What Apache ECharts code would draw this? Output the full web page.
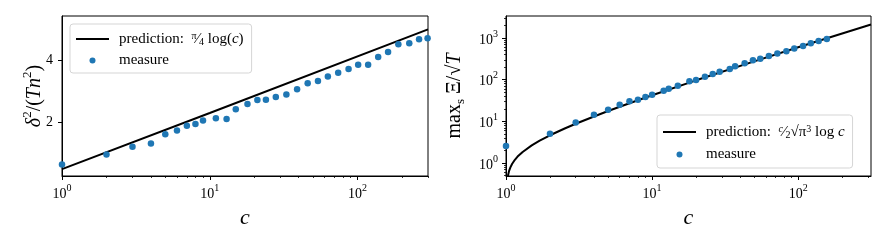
<!DOCTYPE html>
<html>
<head>
<meta charset="utf-8">
<script src="https://cdn.jsdelivr.net/npm/echarts@6/dist/echarts.min.js"></script>
<style>
html,body{margin:0;padding:0;background:#fff;}
#chart{width:888px;height:244px;}
</style>
</head>
<body>
<div id="chart"></div>
<script>
// ---- Left panel data ----
const cLeft = [1,2,3,4,5,6,7,8,9,11,13,15,18,21,24,28,33,39,46,54,63,74,87,101,118,138,161,189,224,261,298];
const measureLeft = [0.63,0.95,1.20,1.31,1.61,1.73,1.88,1.94,2.05,2.12,2.10,2.41,2.58,2.71,2.72,2.81,2.89,3.06,3.25,3.32,3.47,3.59,3.71,3.85,3.85,4.10,4.26,4.51,4.54,4.67,4.70];
const cPredLeft = [1,10,300];
const predLeft = [0.48,2.29,4.99];

// ---- Right panel data ----
const cRight = [1,2,3,4,5,6,7,8,9,10,12,13,15,18,20,23,26,29,34,37,43,49,55,63,72,83,94,108,122,138,157];
const measureRight = [2.56,5.06,9.46,14.4,19.1,25.1,30.2,33.1,38.4,43.7,54.4,60.8,71.8,91.2,98,118,137,155,180,209,247,291,319,370,421,479,555,643,745,847,946];
const cPredRight = [1.03,1.05,1.07,1.1,1.15,1.2,1.3,1.5,1.7,2,2.5,3,4,5,7,10,20,50,100,200,315];
const predRight = [0.49,0.65,0.78,0.95,1.20,1.43,1.85,2.66,3.45,4.64,6.66,8.75,13.1,17.7,27.2,42.2,96.4,275,598,1282,2104];

// ---- Tick values ----
const xMajor = [1,10,100];
const xMinor = [2,3,4,5,6,7,8,9,20,30,40,50,60,70,80,90,200,300];
const yLeftTicks = [2,4];
const yRightMajor = [1,10,100,1000];
const yRightMinor = [0.5,0.6,0.7,0.8,0.9,2,3,4,5,6,7,8,9,20,30,40,50,60,70,80,90,200,300,400,500,600,700,800,900,2000,3000];

const SERIF = '"Liberation Serif","DejaVu Serif",serif';
const BLUE = '#1f77b4';
const LINE_ICON = 'path://M0,0 L33,0 L33,2 L0,2 Z';

const supRich = {
  b: {fontFamily: SERIF, fontSize: 14, color: '#000', lineHeight: 18, verticalAlign: 'bottom'},
  s: {fontFamily: SERIF, fontSize: 10, color: '#000', lineHeight: 18, verticalAlign: 'top', padding: [0,0,6,0]}
};
function powLabel(v) {
  const e = Math.round(Math.log10(v));
  return '{b|10}{s|' + e + '}';
}

function pairs(xs, ys) { return xs.map((x, i) => [x, ys[i]]); }

function majorX(gridIndex, max) {
  return {
    type: 'log', logBase: 10, gridIndex: gridIndex, min: 1, max: max,
    position: 'bottom',
    axisLine: {show: true, lineStyle: {color: '#000', width: 1}},
    axisTick: {show: true, inside: false, length: 4, lineStyle: {color: '#000', width: 1}, customValues: xMajor},
    axisLabel: {show: true, margin: 7, customValues: xMajor, formatter: powLabel, rich: supRich},
    splitLine: {show: false}, minorTick: {show: false}, minorSplitLine: {show: false},
    name: '{c|c}', nameLocation: 'middle', nameGap: 31,
    nameTextStyle: {rich: {c: {fontFamily: SERIF, fontStyle: 'italic', fontSize: 22, color: '#000'}}}
  };
}
function minorX(gridIndex, max) {
  return {
    type: 'log', logBase: 10, gridIndex: gridIndex, min: 1, max: max,
    position: 'bottom',
    axisLine: {show: false},
    axisTick: {show: true, inside: false, length: 2, lineStyle: {color: '#000', width: 0.8}, customValues: xMinor},
    axisLabel: {show: false},
    splitLine: {show: false}
  };
}

const legendRich = {
  t: {fontFamily: SERIF, fontSize: 15, color: '#000', lineHeight: 16},
  i: {fontFamily: SERIF, fontStyle: 'italic', fontSize: 15, color: '#000', lineHeight: 16},
  sp: {fontFamily: SERIF, fontSize: 10, color: '#000', lineHeight: 16, verticalAlign: 'top'},
  spi: {fontFamily: SERIF, fontStyle: 'italic', fontSize: 10, color: '#000', lineHeight: 16, verticalAlign: 'top'},
  sb: {fontFamily: SERIF, fontSize: 10, color: '#000', lineHeight: 16, verticalAlign: 'bottom'}
};

const option = {
  animation: false,
  backgroundColor: '#fff',
  grid: [
    {left: 62, top: 16, width: 366, height: 160, show: true, borderColor: '#000', borderWidth: 1, backgroundColor: 'transparent'},
    {left: 506, top: 16, width: 365, height: 160, show: true, borderColor: '#000', borderWidth: 1, backgroundColor: 'transparent'}
  ],
  xAxis: [majorX(0, 300), minorX(0, 300), majorX(1, 315), minorX(1, 315)],
  yAxis: [
    {
      type: 'value', gridIndex: 0, min: 0.26, max: 5.42, position: 'left',
      axisLine: {show: true, lineStyle: {color: '#000', width: 1}},
      axisTick: {show: true, inside: false, length: 4, lineStyle: {color: '#000'}, customValues: yLeftTicks},
      axisLabel: {show: true, margin: 9, customValues: yLeftTicks, fontFamily: SERIF, fontSize: 14, color: '#000'},
      splitLine: {show: false},
      name: '{i|δ}{s|2}{r|/(}{i|Tn}{s|2}{r|)}', nameLocation: 'middle', nameRotate: 90, nameGap: 17,
      nameMoveOverlap: false,
      nameTextStyle: {rich: {
        i: {fontFamily: SERIF, fontStyle: 'italic', fontSize: 20, color: '#000', lineHeight: 24, verticalAlign: 'bottom'},
        r: {fontFamily: SERIF, fontSize: 20, color: '#000', lineHeight: 24, verticalAlign: 'bottom'},
        s: {fontFamily: SERIF, fontSize: 13, color: '#000', lineHeight: 24, verticalAlign: 'top', padding: [0,0,8,0]}
      }}
    },
    {
      type: 'log', logBase: 10, gridIndex: 1, min: 0.49, max: 3360, position: 'left',
      axisLine: {show: true, lineStyle: {color: '#000', width: 1}},
      axisTick: {show: true, inside: false, length: 4, lineStyle: {color: '#000'}, customValues: yRightMajor},
      axisLabel: {show: true, margin: 8, customValues: yRightMajor, formatter: powLabel, rich: supRich},
      splitLine: {show: false}, minorTick: {show: false},
      name: '{r|max}{sub|s}{r| Ξ/√}{i|T}', nameLocation: 'middle', nameRotate: 90, nameGap: 39,
      nameMoveOverlap: false,
      nameTextStyle: {rich: {
        i: {fontFamily: SERIF, fontStyle: 'italic', fontSize: 20, color: '#000', lineHeight: 24},
        r: {fontFamily: SERIF, fontSize: 20, color: '#000', lineHeight: 24},
        sub: {fontFamily: SERIF, fontSize: 13, color: '#000', lineHeight: 24, verticalAlign: 'bottom', padding: [6,0,0,0]}
      }}
    },
    {
      type: 'log', logBase: 10, gridIndex: 1, min: 0.49, max: 3360, position: 'left',
      axisLine: {show: false},
      axisTick: {show: true, inside: false, length: 2, lineStyle: {color: '#000', width: 0.8}, customValues: yRightMinor},
      axisLabel: {show: false},
      splitLine: {show: false}
    }
  ],
  legend: [
    {
      left: 70, top: 24, orient: 'vertical', selectedMode: false,
      data: [{name: 'predL', icon: LINE_ICON, itemStyle: {color: '#000'}}, {name: 'measL', icon: 'circle', itemStyle: {color: BLUE, opacity: 1}}],
      itemWidth: 33, itemHeight: 6, itemGap: 6,
      padding: [7, 8, 5, 6],
      backgroundColor: 'rgba(255,255,255,0.85)', borderColor: '#d5d5d5', borderWidth: 1, borderRadius: 3,
      formatter: function (n) {
        return n === 'predL' ? '{t|prediction:  }{sp|π}{t|⁄}{sb|4}{t| log(}{i|c}{t|)}' : '{t|measure}';
      },
      textStyle: {padding: [0, 0, 0, 5], rich: legendRich}
    },
    {
      left: 657, top: 115, orient: 'vertical', selectedMode: false,
      data: [{name: 'predR', icon: LINE_ICON, itemStyle: {color: '#000'}}, {name: 'measR', icon: 'circle', itemStyle: {color: BLUE, opacity: 1}}],
      itemWidth: 33, itemHeight: 6, itemGap: 7,
      padding: [9, 8, 6, 6],
      backgroundColor: 'rgba(255,255,255,0.85)', borderColor: '#d5d5d5', borderWidth: 1, borderRadius: 3,
      formatter: function (n) {
        return n === 'predR' ? '{t|prediction:  }{spi|c}{t|⁄}{sb|2}{t|√π}{sp|3}{t| log }{i|c}' : '{t|measure}';
      },
      textStyle: {padding: [0, 0, 0, 5], rich: legendRich}
    }
  ],
  series: [
    {
      name: 'predL', type: 'line', xAxisIndex: 0, yAxisIndex: 0,
      data: pairs(cPredLeft, predLeft), symbol: 'none', showSymbol: false,
      lineStyle: {color: '#000', width: 2}, itemStyle: {color: '#000'}, clip: true, z: 2
    },
    {
      name: 'measL', type: 'scatter', xAxisIndex: 0, yAxisIndex: 0,
      data: pairs(cLeft, measureLeft), symbol: 'circle', symbolSize: 6.5,
      itemStyle: {color: BLUE, opacity: 1}, clip: true, z: 3
    },
    {
      name: 'predR', type: 'line', xAxisIndex: 2, yAxisIndex: 1,
      data: pairs(cPredRight, predRight), symbol: 'none', showSymbol: false,
      lineStyle: {color: '#000', width: 2}, itemStyle: {color: '#000'}, clip: true, z: 2
    },
    {
      name: 'measR', type: 'scatter', xAxisIndex: 2, yAxisIndex: 1,
      data: pairs(cRight, measureRight), symbol: 'circle', symbolSize: 6.5,
      itemStyle: {color: BLUE, opacity: 1}, clip: true, z: 3
    }
  ]
};

const chart = echarts.init(document.getElementById('chart'), null, {renderer: 'canvas'});
chart.setOption(option);
</script>
</body>
</html>
